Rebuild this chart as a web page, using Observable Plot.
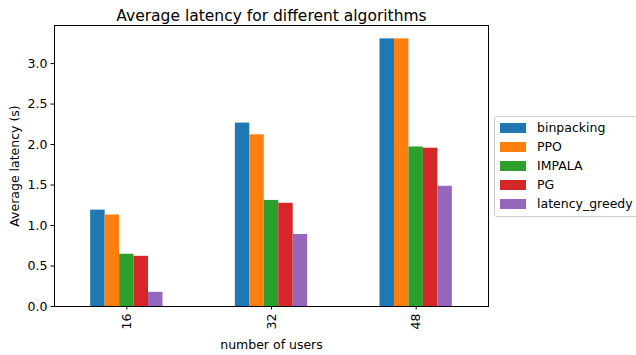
<!DOCTYPE html>
<html>
<head>
<meta charset="utf-8">
<script src="https://cdn.jsdelivr.net/npm/d3@7"></script>
<script src="https://cdn.jsdelivr.net/npm/@observablehq/plot@0.6"></script>
<style>
  body { margin: 0; background: #fff; font-family: "DejaVu Sans", sans-serif; }
  #chart { position: relative; width: 636px; height: 355px; overflow: hidden; }
  #chart svg { position: absolute; left: 0; top: 0; }
  .legend {
    position: absolute; left: 494px; top: 116px;
    border: 1px solid #cccccc; border-radius: 3px;
    background: rgba(255,255,255,0.8);
    padding: 1px 8px 2.5px 5px;
    font-size: 12.5px; color: #000; white-space: nowrap;
  }
  .legend .row { display: flex; align-items: center; height: 19px; }
  .legend .sw { width: 26px; height: 10px; margin-right: 11px; flex: none; }
</style>
</head>
<body>
<div id="chart"></div>
<script>
// Number of users per experiment (x-axis groups)
const users = [16, 32, 48];
// Algorithms compared (series)
const algorithms = ["binpacking", "PPO", "IMPALA", "PG", "latency_greedy"];
const colors = ["#1f77b4", "#ff7f0e", "#2ca02c", "#d62728", "#9467bd"];

// Average latency (s) per algorithm, one value per user count
const binpacking = [1.19, 2.265, 3.305];
const ppo = [1.13, 2.12, 3.305];
const impala = [0.645, 1.31, 1.97];
const pg = [0.62, 1.275, 1.955];
const latencyGreedy = [0.175, 0.89, 1.485];

const yTicks = [0, 0.5, 1, 1.5, 2, 2.5, 3];

const series = [binpacking, ppo, impala, pg, latencyGreedy];
const barWidth = 0.1;      // width of one bar in group units
const groupWidth = 0.5;    // total width of a group

const rows = [];
users.forEach((u, i) => {
  algorithms.forEach((a, k) => {
    const x1 = i - groupWidth / 2 + k * barWidth;
    rows.push({users: u, algorithm: a, x1, x2: x1 + barWidth, value: series[k][i]});
  });
});

const yMax = d3.max(rows, d => d.value) * 1.05;

const plot = Plot.plot({
  width: 636,
  height: 355,
  marginLeft: 54,
  marginRight: 148,
  marginTop: 25,
  marginBottom: 49,
  style: {fontFamily: "DejaVu Sans, sans-serif", fontSize: "12.5px", color: "#000", background: "#fff"},
  x: {type: "linear", domain: [-0.5, users.length - 0.5]},
  y: {domain: [0, yMax]},
  color: {domain: algorithms, range: colors},
  marks: [
    Plot.rectY(rows, {x1: "x1", x2: "x2", y: "value", fill: "algorithm"}),
    Plot.axisY({
      ticks: yTicks, tickFormat: d3.format(".1f"), tickSize: 3.5, tickPadding: 3.5,
      label: "Average latency (s)", labelAnchor: "center", labelArrow: "none", labelOffset: 44,
      fontSize: 12.5
    }),
    Plot.axisX({
      ticks: users.map((_, i) => i), tickFormat: i => users[i], tickSize: 3.5, tickPadding: 3.5,
      tickRotate: -90,
      label: "number of users", labelAnchor: "center", labelArrow: "none", labelOffset: 42,
      fontSize: 12.5
    }),
    Plot.frame({stroke: "#000", strokeWidth: 1}),
    Plot.text(["Average latency for different algorithms"], {
      frameAnchor: "top", dy: -16, fontSize: 15.5, fill: "#000"
    })
  ]
});

const chart = document.getElementById("chart");
chart.appendChild(plot);

// Legend listing each algorithm with its colour swatch
const legend = document.createElement("div");
legend.className = "legend";
algorithms.forEach((a, k) => {
  const row = document.createElement("div");
  row.className = "row";
  const sw = document.createElement("span");
  sw.className = "sw";
  sw.style.background = plot.scale("color").apply(a);
  const label = document.createElement("span");
  label.textContent = a;
  row.appendChild(sw);
  row.appendChild(label);
  legend.appendChild(row);
});
chart.appendChild(legend);
</script>
</body>
</html>
